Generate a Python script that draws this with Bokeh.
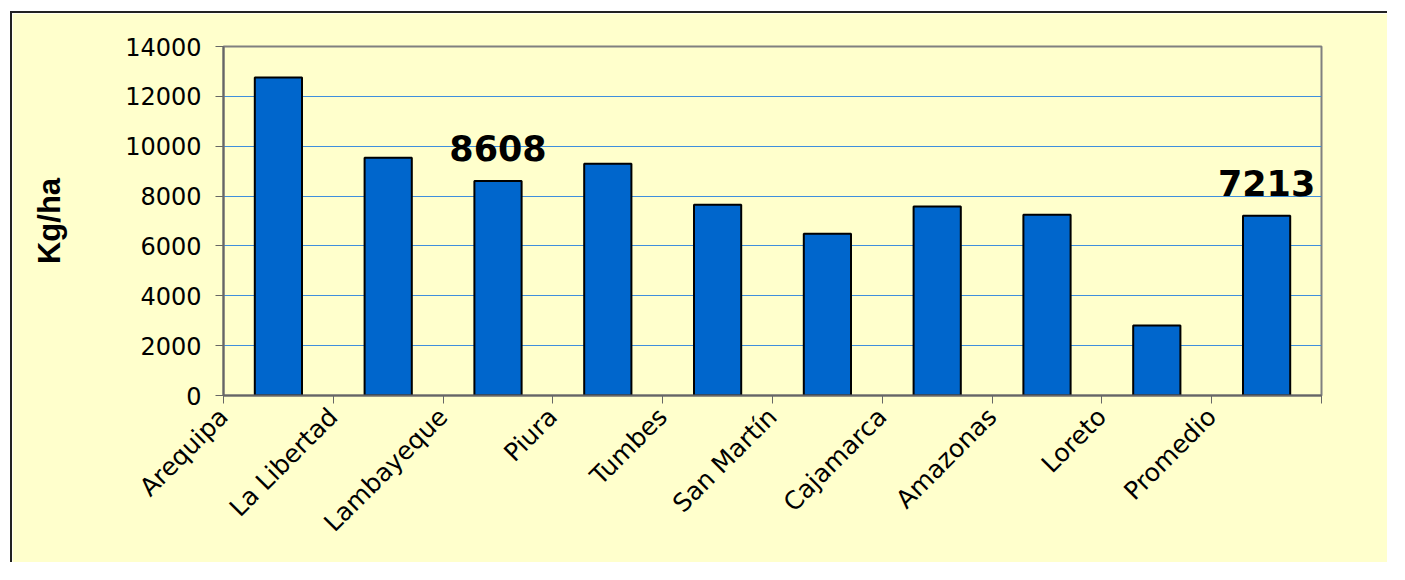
import math
from bokeh.plotting import figure
from bokeh.models import ColumnDataSource, FixedTicker, Range1d, LabelSet
from bokeh.core.properties import value
from bokeh.embed import file_html
from bokeh.resources import INLINE

categories = ["Arequipa", "La Libertad", "Lambayeque", "Piura", "Tumbes",
              "San Martín", "Cajamarca", "Amazonas", "Loreto", "Promedio"]
values = [12756, 9535, 8608, 9294, 7650, 6486, 7581, 7248, 2808, 7213]
label_text = ["", "", "8608", "", "", "", "", "", "", "7213"]
y_ticks = [0, 2000, 4000, 6000, 8000, 10000, 12000, 14000]

xs = [i + 0.5 for i in range(len(categories))]
src = ColumnDataSource(dict(x=xs, top=values, lab=label_text))

p = figure(width=1377, height=551, output_backend="svg", toolbar_location=None,
           x_range=Range1d(0, 10), y_range=Range1d(0, 14000))
p.margin = (11, 0, 0, 10)
p.styles = {"border-top": "2px solid #222222", "border-left": "2px solid #222222"}
p.min_border_left = 211
p.min_border_right = 68
p.min_border_top = 33
p.min_border_bottom = 169
p.background_fill_color = "#FFFFCC"
p.border_fill_color = "#FFFFCC"
p.outline_line_color = "#808080"
p.outline_line_width = 2

p.vbar(x="x", top="top", width=0.43, bottom=0, source=src,
       fill_color="#0066CC", line_color="#000000", line_width=2)

labels = LabelSet(x="x", y="top", text="lab", source=src, y_offset=20,
                  text_align="center", text_baseline="alphabetic",
                  text_font=value("DejaVu Sans"), text_font_style="bold",
                  text_font_size="35px", text_color="#000000")
p.add_layout(labels)

# grid
p.xgrid.grid_line_color = None
p.ygrid.ticker = FixedTicker(ticks=y_ticks)
p.ygrid.grid_line_color = "#3F8FDD"
p.ygrid.grid_line_width = 1

# y axis
p.yaxis.ticker = FixedTicker(ticks=y_ticks)
p.yaxis.axis_label = "Kg/ha"
p.yaxis.axis_label_text_font = "Liberation Sans"
p.yaxis.axis_label_text_font_style = "bold"
p.yaxis.axis_label_text_font_size = "31px"
p.yaxis.axis_label_text_color = "#000000"
p.yaxis.axis_label_standoff = 55
p.yaxis.major_label_text_font = "DejaVu Sans"
p.yaxis.major_label_text_font_size = "24px"
p.yaxis.major_label_text_color = "#000000"
p.yaxis.major_label_standoff = 14
p.yaxis.axis_line_color = "#666666"
p.yaxis.axis_line_width = 2
p.yaxis.major_tick_line_color = "#666666"
p.yaxis.major_tick_out = 8
p.yaxis.major_tick_in = 0
p.yaxis.minor_tick_line_color = None

# x axis
p.xaxis.ticker = FixedTicker(ticks=list(range(0, 11)))
overrides = {i: categories[i] for i in range(len(categories))}
overrides[10] = ""
p.xaxis.major_label_overrides = overrides
p.xaxis.major_label_orientation = math.pi / 4
p.xaxis.major_label_text_font = "DejaVu Sans"
p.xaxis.major_label_text_font_size = "25px"
p.xaxis.major_label_text_color = "#000000"
p.xaxis.major_label_standoff = 9
p.xaxis.axis_line_color = "#666666"
p.xaxis.axis_line_width = 2
p.xaxis.major_tick_line_color = "#666666"
p.xaxis.major_tick_out = 8
p.xaxis.major_tick_in = 0
p.xaxis.minor_tick_line_color = None

open("out.html", "w").write(file_html(p, INLINE))
